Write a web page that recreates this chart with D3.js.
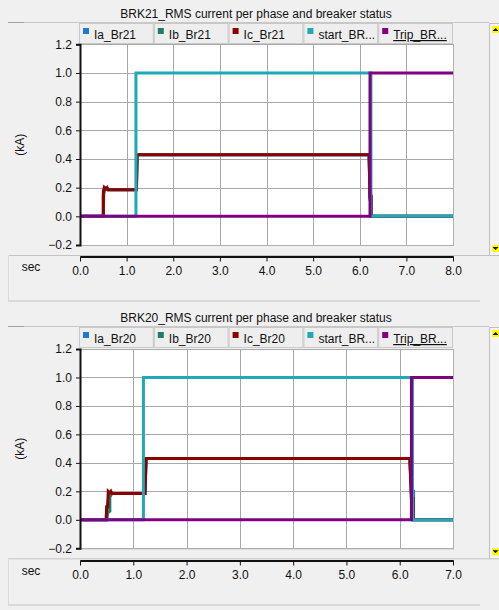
<!DOCTYPE html>
<html>
<head>
<meta charset="utf-8">
<script src="https://cdn.jsdelivr.net/npm/d3@7"></script>
<style>
  html, body { margin: 0; padding: 0; background: #f0f0f0; }
  svg { display: block; }
  text { font-family: "Liberation Sans", "DejaVu Sans", sans-serif; }
</style>
</head>
<body>
<svg id="chart" width="499" height="610"></svg>
<script>
// Series names and colours shared by both panels
const seriesKeys = ["Ia", "Ib", "Ic", "start", "trip"];
const seriesColors = ["#1f78d1", "#1b7f6c", "#8b0000", "#1fa8b6", "#800080"];
const yTicks = [-0.2, 0.0, 0.2, 0.4, 0.6, 0.8, 1.0, 1.2];

// Panel 1: BRK21 (time in s, value in kA / status)
const br21Title = "BRK21_RMS current per phase and breaker status";
const br21Legend = ["Ia_Br21", "Ib_Br21", "Ic_Br21", "start_BR...", "Trip_BR..."];
const br21XTicks = [0, 1, 2, 3, 4, 5, 6, 7, 8];
const br21Ia = [[0,0],[0.5,0],[0.5,0.15],[0.53,0.2],[0.57,0.19],[0.6,0.185],[1.21,0.185],[1.23,0.43],[6.2,0.43],[6.22,0.13],[6.25,0.13],[6.25,0],[8,0]];
const br21Ib = [[0,0],[0.5,0],[0.51,0.16],[0.53,0.19],[0.58,0.2],[0.6,0.185],[1.21,0.185],[1.23,0.43],[6.2,0.43],[6.22,0.12],[6.25,0.12],[6.25,0],[8,0]];
const br21Ic = [[0,0],[0.49,0],[0.5,0.0],[0.5,0.17],[0.52,0.2],[0.55,0.19],[0.58,0.2],[0.6,0.185],[1.21,0.185],[1.22,0.43],[6.2,0.43],[6.22,0.14],[6.25,0.14],[6.25,0],[8,0]];
const br21Start = [[0,0],[1.2,0],[1.2,1.0],[6.24,1.0],[6.24,0],[8,0]];
const br21Trip = [[0,0],[6.22,0],[6.22,1.0],[8,1.0]];

// Panel 2: BRK20
const br20Title = "BRK20_RMS current per phase and breaker status";
const br20Legend = ["Ia_Br20", "Ib_Br20", "Ic_Br20", "start_BR...", "Trip_BR..."];
const br20XTicks = [0, 1, 2, 3, 4, 5, 6, 7];
const br20Ia = [[0,0],[0.5,0],[0.51,0.1],[0.55,0.18],[0.6,0.185],[1.22,0.185],[1.24,0.43],[6.19,0.43],[6.22,0.2],[6.26,0.2],[6.26,0],[7,0]];
const br20Ib = [[0,0],[0.5,0],[0.52,0.05],[0.56,0.06],[0.56,0.16],[0.6,0.185],[1.22,0.185],[1.24,0.43],[6.19,0.43],[6.22,0.15],[6.25,0.15],[6.25,0],[7,0]];
const br20Ic = [[0,0],[0.49,0],[0.5,0.09],[0.52,0.09],[0.53,0.2],[0.56,0.19],[0.58,0.2],[0.6,0.185],[1.22,0.185],[1.24,0.43],[6.19,0.43],[6.22,0.15],[6.25,0.15],[6.25,0],[7,0]];
const br20Start = [[0,0],[1.19,0],[1.19,1.0],[6.24,1.0],[6.24,0],[7,0]];
const br20Trip = [[0,0],[6.22,0],[6.22,1.0],[7,1.0]];

const svg = d3.select("#chart");

function drawPanel(p) {
  const g = svg.append("g");
  const plotL = 80, plotR = 453;
  const x = d3.scaleLinear().domain([0, p.xMax]).range([plotL, plotR]);
  const y = d3.scaleLinear().domain([-0.2, 1.2]).range([p.yBottom, p.yTop]);

  // frame lines around the title strip
  g.append("line").attr("x1", 8).attr("x2", 489).attr("y1", p.top + 22.5).attr("y2", p.top + 22.5)
    .attr("stroke", "#c8c8c8");
  g.append("line").attr("x1", 8).attr("x2", 24).attr("y1", p.top + 22.5).attr("y2", p.top + 22.5)
    .attr("stroke", "#a0a0a0");

  // title
  g.append("text").attr("x", 256).attr("y", p.top + 18).attr("text-anchor", "middle")
    .attr("font-size", 12).attr("fill", "#111").text(p.title);

  // legend buttons
  const bw = (plotR - 79) / 5;
  p.legend.forEach((name, i) => {
    const bx = 79 + i * bw;
    const lg = g.append("g");
    lg.append("rect").attr("x", bx + 0.5).attr("y", p.top + 23.5).attr("width", bw - 1).attr("height", 20)
      .attr("fill", "#eeeeee").attr("stroke", "#c8c8c8");
    lg.append("rect").attr("x", bx + 4).attr("y", p.top + 28).attr("width", 6).attr("height", 6)
      .attr("fill", seriesColors[i]);
    const t = lg.append("text").attr("x", bx + 15).attr("y", p.top + 39).attr("font-size", 12)
      .attr("fill", "#111").text(name);
    if (i === 4) t.attr("text-decoration", "underline");
  });

  // plot background
  g.append("rect").attr("x", plotL).attr("y", p.yTop).attr("width", plotR - plotL)
    .attr("height", p.yBottom - p.yTop).attr("fill", "#ffffff");

  // grid
  g.append("g").selectAll("line").data(yTicks).join("line")
    .attr("x1", plotL).attr("x2", plotR)
    .attr("y1", d => Math.round(y(d)) + 0.5).attr("y2", d => Math.round(y(d)) + 0.5)
    .attr("stroke", "#a8a8a8");
  g.append("g").selectAll("line").data(p.xTicks).join("line")
    .attr("y1", p.yTop).attr("y2", p.yBottom)
    .attr("x1", d => Math.round(x(d)) + 0.5).attr("x2", d => Math.round(x(d)) + 0.5)
    .attr("stroke", "#a8a8a8");
  // right/bottom plot frame
  g.append("line").attr("x1", plotR + 0.5).attr("x2", plotR + 0.5).attr("y1", p.yTop).attr("y2", p.yBottom + 1)
    .attr("stroke", "#b0b0b0");
  g.append("line").attr("x1", plotL).attr("x2", plotR + 1).attr("y1", p.yBottom + 0.5).attr("y2", p.yBottom + 0.5)
    .attr("stroke", "#b0b0b0");

  // series lines
  const line = d3.line().x(d => x(d[0])).y(d => y(d[1]));
  const seriesData = [p.Ia, p.Ib, p.Ic, p.start, p.trip];
  seriesData.forEach((data, i) => {
    g.append("path").datum(data).attr("d", line).attr("fill", "none")
      .attr("stroke", seriesColors[i]).attr("stroke-width", 3)
      .attr("stroke-linejoin", "miter");
  });

  // y axis
  const yAxis = d3.axisLeft(y).tickValues(yTicks).tickFormat(d3.format(".1f")).tickSize(4).tickPadding(4);
  const ya = g.append("g").attr("transform", `translate(${plotL},0)`).call(yAxis);
  ya.select(".domain").attr("stroke", "#111").attr("stroke-width", 2);
  ya.selectAll(".tick line").attr("stroke", "#111");
  ya.selectAll("text").attr("font-size", 12).attr("fill", "#111")
    .attr("font-family", "'Liberation Sans', 'DejaVu Sans', sans-serif");

  g.append("text").attr("transform", `translate(24,${(p.yTop + p.yBottom) / 2}) rotate(-90)`)
    .attr("text-anchor", "middle").attr("font-size", 12).attr("fill", "#111").text("(kA)");

  // x axis strip
  g.append("line").attr("x1", 8).attr("x2", 489).attr("y1", p.yBottom + 10.5).attr("y2", p.yBottom + 10.5)
    .attr("stroke", "#c4c4c4");
  g.append("line").attr("x1", 8.5).attr("x2", 8.5).attr("y1", p.yBottom + 10).attr("y2", p.axisY + 44)
    .attr("stroke", "#dcdcdc");
  const xAxis = d3.axisBottom(x).tickValues(p.xTicks).tickFormat(d3.format(".1f")).tickSize(5).tickSizeOuter(0).tickPadding(5);
  const xa = g.append("g").attr("transform", `translate(0,${p.axisY})`).call(xAxis);
  xa.select(".domain").attr("stroke", "#111").attr("stroke-width", 2);
  xa.selectAll(".tick line").attr("stroke", "#111");
  xa.selectAll("text").attr("font-size", 12).attr("fill", "#111")
    .attr("font-family", "'Liberation Sans', 'DejaVu Sans', sans-serif");
  g.append("text").attr("x", 31).attr("y", p.axisY + 14).attr("text-anchor", "middle")
    .attr("font-size", 12).attr("fill", "#111").text("sec");
  g.append("line").attr("x1", 8).attr("x2", 480).attr("y1", p.axisY + 44.5).attr("y2", p.axisY + 44.5)
    .attr("stroke", "#c4c4c4");

  // scroll bar at right
  g.append("rect").attr("x", 489.5).attr("y", p.top + 23.5).attr("width", 11).attr("height", p.yBottom - p.top - 13)
    .attr("fill", "#f4f4f4").attr("stroke", "#c0c0c0");
  [[p.top + 26, "up"], [p.yBottom, "down"]].forEach(([ay, dir]) => {
    g.append("rect").attr("x", 492).attr("y", ay).attr("width", 7).attr("height", 7).attr("fill", "#ffff00");
    const tri = dir === "up"
      ? `M${492.5},${ay + 5} L${498.5},${ay + 5} L${495.5},${ay + 2} Z`
      : `M${492.5},${ay + 2} L${498.5},${ay + 2} L${495.5},${ay + 5} Z`;
    g.append("path").attr("d", tri).attr("fill", "#111");
  });
}

drawPanel({
  top: 0, title: br21Title, legend: br21Legend, xMax: 8, xTicks: br21XTicks,
  yTop: 44.3, yBottom: 245, axisY: 256.5,
  Ia: br21Ia, Ib: br21Ib, Ic: br21Ic, start: br21Start, trip: br21Trip
});
drawPanel({
  top: 304, title: br20Title, legend: br20Legend, xMax: 7, xTicks: br20XTicks,
  yTop: 349, yBottom: 548.3, axisY: 560.5,
  Ia: br20Ia, Ib: br20Ib, Ic: br20Ic, start: br20Start, trip: br20Trip
});
</script>
</body>
</html>
